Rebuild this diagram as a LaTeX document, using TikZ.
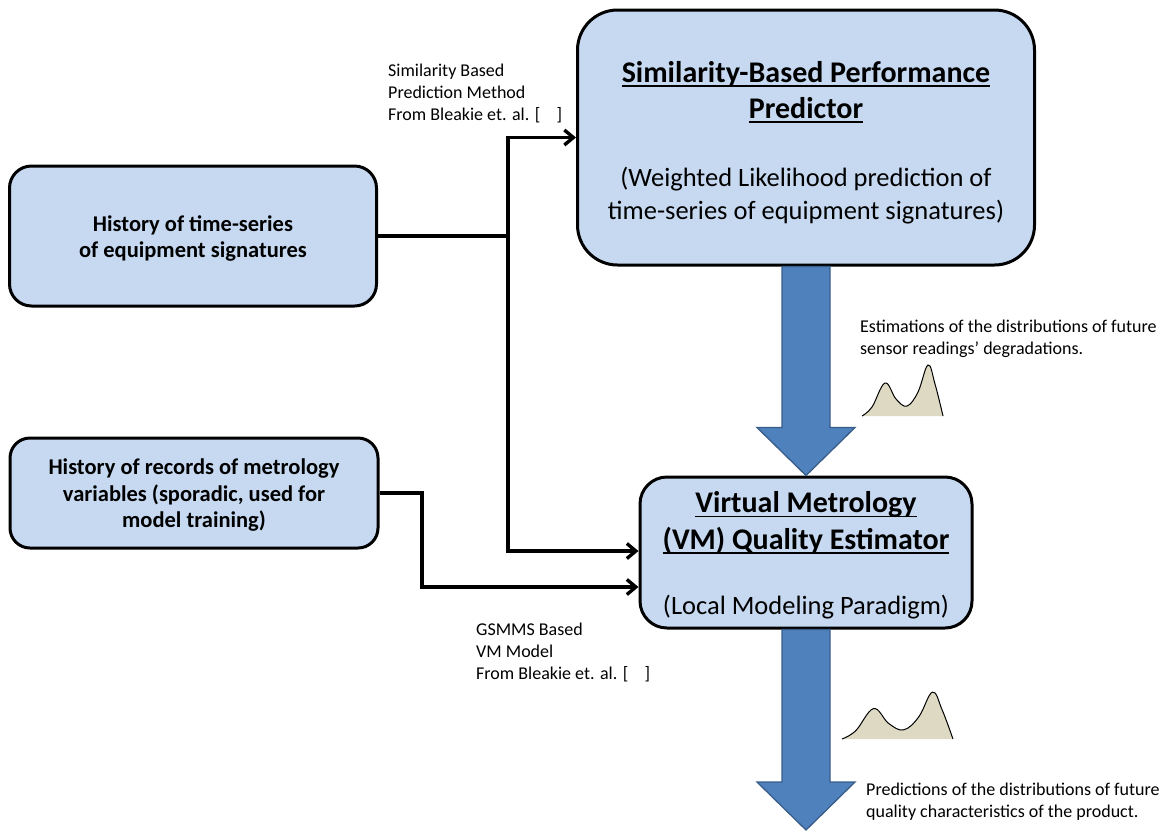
\documentclass[tikz,border=0pt]{standalone}
\usepackage{fontspec}
\setmainfont{Carlito}
\usetikzlibrary{calc,arrows.meta}

\definecolor{boxblue}{RGB}{198,217,241}
\definecolor{fatblue}{RGB}{79,129,189}
\definecolor{fatedge}{RGB}{56,93,138}
\definecolor{densfill}{RGB}{221,217,195}

\tikzset{
  roundbox/.style={draw=black, line width=3pt, fill=boxblue},
  fatarrowstyle/.style={fill=fatblue, draw=fatedge, line width=1.3pt, line join=miter}
}
\newcommand{\uln}[1]{\leavevmode\setbox0\hbox{#1}\rlap{\copy0}\rule[-4.5pt]{\wd0}{1.8pt}}

\newcommand{\densitycurve}[4]{%
  \begin{scope}[shift={(#1,#2)}, xscale=#3, yscale=#4]
    \fill[densfill] plot[smooth, tension=0.65] coordinates
      {(0,0) (10,-9) (23,-33) (34,-17) (45,-10) (56,-24) (66,-51) (73,-32) (81,0)} -- cycle;
    \draw[line width=1pt] plot[smooth, tension=0.65] coordinates
      {(0,0) (10,-9) (23,-33) (34,-17) (45,-10) (56,-24) (66,-51) (73,-32) (81,0)};
  \end{scope}%
}
\newcommand{\fatarrow}[2]{%
  \draw[fatarrowstyle] let \p1=(#1), \p2=(#2) in
    (\x1-24pt,\y1) -- (\x1+24pt,\y1) -- (\x1+24pt,\y2+48pt) -- (\x1+49pt,\y2+48pt)
    -- (\x1,\y2) -- (\x1-49pt,\y2+48pt) -- (\x1-24pt,\y2+48pt) -- cycle;%
}

\begin{document}
\begin{tikzpicture}[x=1pt,y=-1pt]

  % --- styles ---
  \tikzset{
    wire/.style={draw=black, line width=3.4pt},
    tip/.style={-{Straight Barb[length=9pt,width=15pt]}},
    inbox/.style={font=\fontsize{22.5}{26.5}\selectfont\bfseries, align=center},
    titletext/.style={font=\fontsize{30}{36.5}\selectfont\bfseries, align=center, inner sep=0pt},
    subtext/.style={font=\fontsize{26.5}{33}\selectfont, align=center, inner sep=0pt},
    note/.style={font=\fontsize{18}{22}\selectfont, align=left, inner sep=0pt, anchor=base west},
  }

  \useasboundingbox (0,0) rectangle (1172,831);

  % =========================
  %  INPUT BOXES
  % =========================

  \node[roundbox, rounded corners=22pt, minimum width=367pt, minimum height=140pt, inbox]
    (hist) at (193,236) {\\[-6pt]History of time-series\\of equipment signatures};
  \node[roundbox, rounded corners=20pt, minimum width=368pt, minimum height=110pt, inbox]
    (rec) at (194,493) {\\[-6pt]History of records of metrology\\variables (sporadic, used for\\model training)};

  % =========================
  %  PREDICTOR & ESTIMATOR
  % =========================

  \node[roundbox, rounded corners=40pt, minimum width=457pt, minimum height=255pt]
    (pred) at (806,137.5) {};
  \node[titletext] (predtitle) at (806,92)
    {\uln{Similarity-Based Performance}\\\uln{Predictor}};
  \node[subtext] (predsub) at (806,196)
    {(Weighted Likelihood prediction of\\time-series of equipment signatures)};

  \node[roundbox, rounded corners=27pt, minimum width=332pt, minimum height=151pt]
    (vm) at (806,552.5) {};
  \node[titletext] (vmtitle) at (806,523)
    {\uln{Virtual Metrology}\\\uln{(VM) Quality Estimator}};
  \node[subtext, anchor=base] (vmsub) at (806,614) {(Local Modeling Paradigm)};

  % --- connectors ---
  \coordinate (splitx) at (508,0);
  \coordinate (split) at (hist.east -| splitx);
  \coordinate (recx) at (422,0);
  \coordinate (recbend) at (rec.east -| recx);

  \draw[wire] (hist.east) -- (split);
  \draw[wire, tip] (split) |- (pred.west);
  \draw[wire, tip] (split) |- ($(vm.west)+(0,-1.5)$);
  \draw[wire, tip] (rec.east) -- (recbend) |- ($(vm.west)+(0,34.5)$);

  % --- fat arrows ---
  \coordinate (qualout) at (806,830);
  \fatarrow{pred.south}{vm.north}
  \fatarrow{vm.south}{qualout}

  % =========================
  %  NOTES & DENSITIES
  % =========================

  \node[note] (simnote) at (388,120)
    {Similarity Based\\Prediction Method\\From Bleakie et. al. [\hspace{0.9em}]};
  \node[note] (gsnote) at (476,679)
    {GSMMS Based\\VM Model\\From Bleakie et. al. [\hspace{0.9em}]};
  \node[note] (estnote) at (860,354)
    {Estimations of the distributions of future\\sensor readings’ degradations.};
  \node[note] (prednote) at (866,817)
    {Predictions of the distributions of future\\quality characteristics of the product.};

  \densitycurve{862}{416}{1}{1}
  \densitycurve{842}{739}{1.37}{0.92}

\end{tikzpicture}
\end{document}
